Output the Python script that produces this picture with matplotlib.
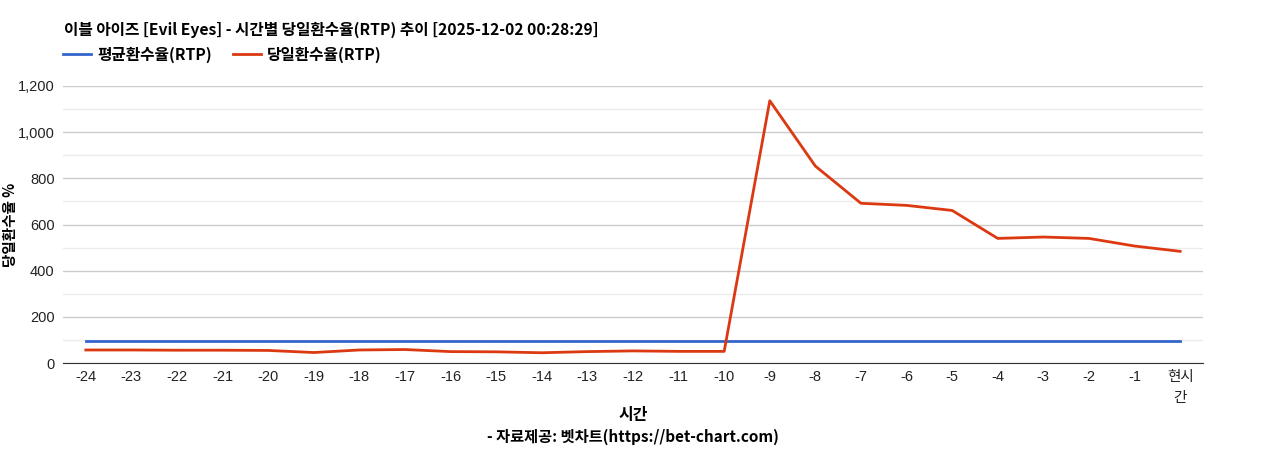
import numpy as np
import matplotlib.pyplot as plt
from matplotlib.ticker import MultipleLocator, FuncFormatter

# hour labels, -24 ... -1, then "현시간" (now)
hours = ['-24', '-23', '-22', '-21', '-20', '-19', '-18', '-17', '-16', '-15',
         '-14', '-13', '-12', '-11', '-10', '-9', '-8', '-7', '-6', '-5',
         '-4', '-3', '-2', '-1', '현시\n간']

avg_rtp = [96] * 25

today_rtp = [57, 57, 56, 56, 55, 46, 57, 59, 50, 49,
             45, 50, 53, 51, 51, 1136, 853, 692, 683, 661,
             540, 546, 540, 507, 484]

title = '이블 아이즈 [Evil Eyes] - 시간별 당일환수율(RTP) 추이 [2025-12-02 00:28:29]'
kr = ['Noto Sans CJK KR', 'DejaVu Sans']
tick_font = ['Liberation Sans', 'Noto Sans CJK KR']

fig = plt.figure(figsize=(12.68, 4.5), dpi=100)
ax = fig.add_axes([0.0497, 0.193, 0.8990, 0.616])

x = np.arange(len(hours))
ax.plot(x, avg_rtp, color='#3366cc', linewidth=2, label='평균환수율(RTP)')
ax.plot(x, today_rtp, color='#dc3912', linewidth=2, label='당일환수율(RTP)')

ax.set_xlim(-0.5, len(hours) - 0.5)
ax.set_ylim(0, 1200)
ax.yaxis.set_major_locator(MultipleLocator(200))
ax.yaxis.set_minor_locator(MultipleLocator(100))
ax.yaxis.set_major_formatter(FuncFormatter(lambda v, p: '{:,.0f}'.format(v)))
ax.grid(axis='y', which='major', color='#cccccc', linewidth=1)
ax.grid(axis='y', which='minor', color='#ebebeb', linewidth=1)
ax.set_axisbelow(True)

ax.set_xticks(x)
ax.set_xticklabels(hours, family=tick_font, fontsize=10.5, color='#222222',
                   linespacing=1.6, va='top')
for lbl in ax.get_yticklabels():
    lbl.set_family(tick_font)
    lbl.set_fontsize(10.5)
    lbl.set_color('#222222')
ax.tick_params(axis='both', which='both', length=0)
ax.tick_params(axis='x', pad=5)
ax.tick_params(axis='y', pad=6)

for side in ['top', 'right', 'left']:
    ax.spines[side].set_visible(False)
ax.spines['bottom'].set_color('#333333')

ax.set_ylabel('당일환수율 %', family=kr, fontsize=10.5, fontweight='bold', va='center')
ax.yaxis.set_label_coords(-0.0465, 0.5)

fig.text(0.4992, 1 - 415 / 450, '시간', family=kr, fontsize=11.5, fontweight='bold',
         ha='center', va='center')
fig.text(0.0505, 1 - 30 / 450, title, family=kr, fontsize=11.3, fontweight='bold', va='center')
fig.text(0.4992, 1 - 437 / 450, '- 자료제공: 벳차트(https://bet-chart.com)', family=kr,
         fontsize=11, fontweight='bold', ha='center', va='center')

leg = ax.legend(loc='center left', bbox_to_anchor=(0.0, 1.112), ncol=2,
                frameon=False, prop={'family': kr, 'size': 11.3, 'weight': 'bold'},
                handlelength=1.8, columnspacing=1.3, handletextpad=0.4,
                borderaxespad=0, borderpad=0)

fig.savefig('out.png', dpi=100)
